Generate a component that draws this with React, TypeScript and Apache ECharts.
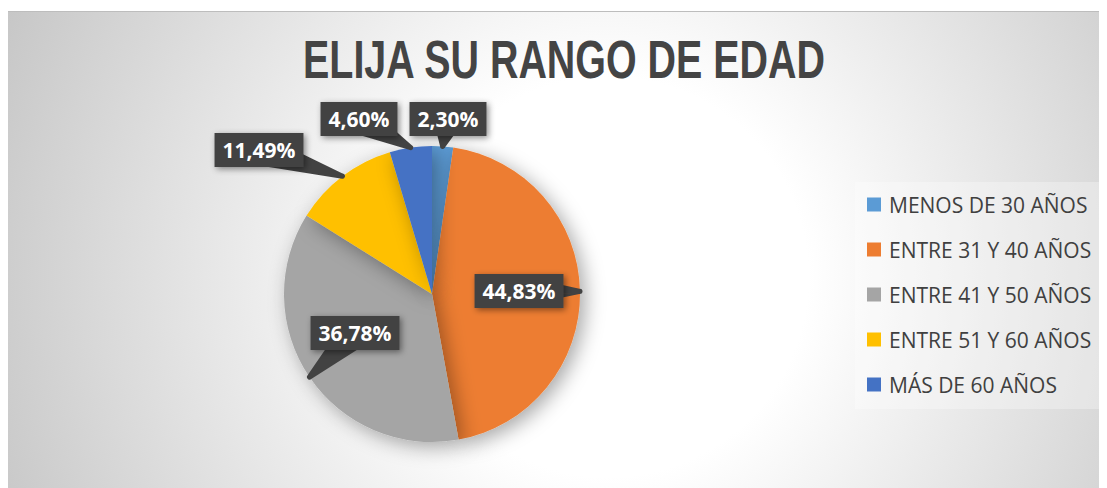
import React, { useEffect, useRef } from "react";
import * as echarts from "echarts";

const titleText = "ELIJA SU RANGO DE EDAD";
const categories = [
  "MENOS DE 30 AÑOS",
  "ENTRE 31 Y 40 AÑOS",
  "ENTRE 41 Y 50 AÑOS",
  "ENTRE 51 Y 60 AÑOS",
  "MÁS DE 60 AÑOS",
];
const values = [2.3, 44.83, 36.78, 11.49, 4.6];
const colors = ["#5B9BD5", "#ED7D31", "#A5A5A5", "#FFC000", "#4472C4"];
// label box centres (chart pixel coordinates)
const labelPositions: [number, number][] = [
  [440, 107],
  [511, 279],
  [347, 321],
  [251, 138],
  [351, 107],
];

export default function App() {
  const ref = useRef<HTMLDivElement>(null);
  useEffect(() => {
    if (!ref.current) return;
    const chart = echarts.init(ref.current, null, { renderer: "svg" });
    const pieGeom = {
      type: "pie",
      center: [424, 282],
      radius: 148,
      startAngle: 90,
      clockwise: true,
      emphasis: { disabled: true },
    };
    chart.setOption({
      animation: false,
      backgroundColor: "transparent",
      graphic: [
        {
          type: "text",
          x: 556,
          y: 47,
          scaleX: 0.73,
          style: {
            text: titleText,
            x: 0,
            y: 0,
            align: "center",
            verticalAlign: "middle",
            fontFamily: "'Liberation Sans', Arial, sans-serif",
            fontWeight: "bold",
            fontSize: 54,
            fill: "#444444",
          },
        },
      ],
      legend: {
        orient: "vertical",
        left: 847,
        top: 170,
        padding: [12, 20, 14, 12],
        backgroundColor: "rgba(255,255,255,0.3)",
        itemWidth: 14,
        itemHeight: 14,
        itemGap: 24,
        icon: "rect",
        data: categories.map((name, i) => ({ name, itemStyle: { color: colors[i] } })),
        textStyle: {
          fontFamily: "'Open Sans', sans-serif",
          fontSize: 21,
          color: "#404040",
          padding: [0, 0, 0, 3],
        },
      },
      series: [
        {
          ...pieGeom,
          z: 2,
          data: categories.map((name, i) => ({
            name,
            value: values[i],
            itemStyle: { color: colors[i] },
          })),
          itemStyle: {
            borderWidth: 0,
            shadowBlur: 20,
            shadowColor: "rgba(0,0,0,0.35)",
            shadowOffsetX: 5,
            shadowOffsetY: 5,
          },
          label: { show: false },
          labelLine: { show: false },
        },
        {
          ...pieGeom,
          z: 3,
          silent: true,
          data: categories.map((name, i) => ({ name, value: values[i] })),
          itemStyle: { color: "rgba(0,0,0,0)", borderWidth: 0 },
          label: {
            show: true,
            position: "outside",
            formatter: (p: any) => p.value.toFixed(2).replace(".", ",") + "%",
            fontFamily: "'Open Sans', sans-serif",
            fontWeight: "bold",
            fontSize: 21,
            color: "#ffffff",
            backgroundColor: "#424242",
            padding: [7, 8, 6, 8],
            shadowBlur: 6,
            shadowColor: "rgba(0,0,0,0.45)",
            shadowOffsetX: 2,
            shadowOffsetY: 2,
          },
          labelLine: {
            show: true,
            showAbove: true,
            length: 10,
            length2: 10,
            lineStyle: { color: "#424242", width: 5, join: "round", cap: "round" },
          },
          labelLayout: (params: any) => {
            const [lx, ly] = labelPositions[params.dataIndex];
            const pts = params.labelLinePoints;
            const out: any = {
              x: lx,
              y: ly,
              align: "center",
              verticalAlign: "middle",
            };
            if (pts && pts.length) {
              const tip = pts[0];
              const dx = tip[0] - lx;
              const dy = tip[1] - ly;
              const len = Math.sqrt(dx * dx + dy * dy) || 1;
              const h = 13;
              const nx = (-dy / len) * h;
              const ny = (dx / len) * h;
              const a = [lx + nx, ly + ny];
              const b = [lx - nx, ly - ny];
              const c = [lx, ly];
              const ha = [lx + nx / 2, ly + ny / 2];
              const hb = [lx - nx / 2, ly - ny / 2];
              out.labelLinePoints = [tip, a, ha, tip, c, tip, hb, tip, b, tip];
            }
            return out;
          },
        },
      ],
    });
    return () => chart.dispose();
  }, []);
  return (
    <div
      ref={ref}
      style={{
        width: 1096,
        height: 477,
        marginTop: 3,
        borderTop: "1px solid #bdbdbd",
        boxSizing: "border-box",
        background:
          "radial-gradient(circle at 600px 265px, #ffffff 0px, #ffffff 200px, #c4c4c4 680px)",
      }}
    />
  );
}
